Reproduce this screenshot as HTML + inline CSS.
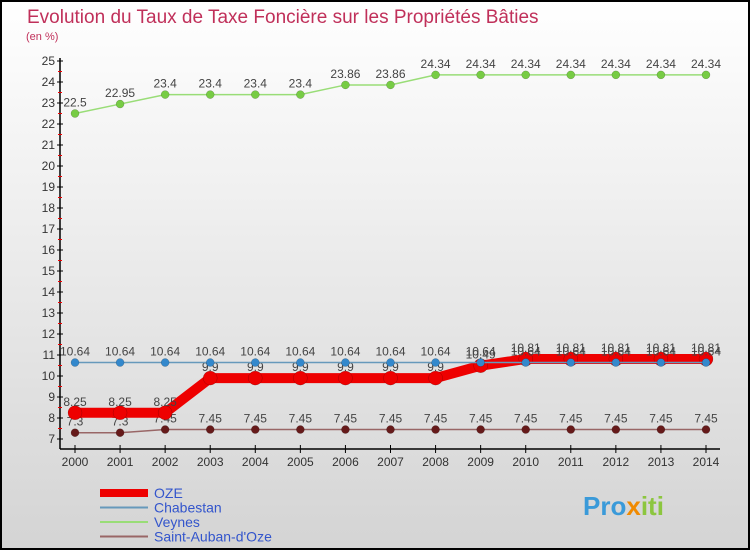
<!DOCTYPE html>
<html><head><meta charset="utf-8"><style>
body{margin:0}
#c{width:750px;height:550px;position:relative;overflow:hidden}
text{font-family:"Liberation Sans",sans-serif}
</style></head><body>
<div id="c">
<svg id="s" width="750" height="550" xmlns="http://www.w3.org/2000/svg">
<defs><linearGradient id="bg" x1="0" y1="0" x2="0" y2="1"><stop offset="0" stop-color="#ffffff"/><stop offset="1" stop-color="#d4d4d4"/></linearGradient></defs>
<rect x="1" y="1" width="748" height="548" fill="url(#bg)" stroke="#000" stroke-width="2"/>
<text x="27" y="23" font-size="19" fill="#c0305a">Evolution du Taux de Taxe Foncière sur les Propriétés Bâties</text>
<text x="26" y="40" font-size="11" fill="#c0305a">(en %)</text>
<g id="axes"></g><g id="series"></g><g id="legend"></g>
<text x="583" y="515" font-size="26" font-weight="bold" fill="#3a9ad9">Pro<tspan fill="#f08a00">x</tspan><tspan fill="#8cc63f">iti</tspan></text>
</svg></div>
<script>
const years=[2000,2001,2002,2003,2004,2005,2006,2007,2008,2009,2010,2011,2012,2013,2014];
const oze=[8.25,8.25,8.25,9.9,9.9,9.9,9.9,9.9,9.9,10.49,10.81,10.81,10.81,10.81,10.81];
const chabestan=[10.64,10.64,10.64,10.64,10.64,10.64,10.64,10.64,10.64,10.64,10.64,10.64,10.64,10.64,10.64];
const veynes=[22.5,22.95,23.4,23.4,23.4,23.4,23.86,23.86,24.34,24.34,24.34,24.34,24.34,24.34,24.34];
const stauban=[7.3,7.3,7.45,7.45,7.45,7.45,7.45,7.45,7.45,7.45,7.45,7.45,7.45,7.45,7.45];
const yTicks=[7,8,9,10,11,12,13,14,15,16,17,18,19,20,21,22,23,24,25];
const NS="http://www.w3.org/2000/svg";
const X=i=>75+i*(706-75)/(years.length-1);
const Y=v=>439-(v-7)*(439-61)/18;
function mk(tag,attrs,parent){const e=document.createElementNS(NS,tag);for(const k in attrs)e.setAttribute(k,attrs[k]);parent.appendChild(e);return e;}
const ax=document.getElementById('axes');
let l=mk('line',{x1:60,y1:58,x2:60,y2:449,stroke:'#000','stroke-width':1.5},ax);


l=mk('line',{x1:60,y1:449,x2:720,y2:449,stroke:'#000','stroke-width':1.5},ax);


yTicks.forEach(v=>{
 mk('line',{x1:57,y1:Y(v),x2:63,y2:Y(v),stroke:'#000'},ax);
 if(v<25) mk('line',{x1:58,y1:Y(v+0.5),x2:62,y2:Y(v+0.5),stroke:'#e00'},ax);
 const t=mk('text',{x:55,y:Y(v)+4,'font-size':12,'text-anchor':'end',fill:'#333'},ax);t.textContent=v;
 
 
});
years.forEach((y,i)=>{
 mk('line',{x1:X(i),y1:445,x2:X(i),y2:453,stroke:'#000'},ax);
 const t=mk('text',{x:X(i),y:466,'font-size':12,'text-anchor':'middle',fill:'#333'},ax);t.textContent=y;
 
 
});
const sg=document.getElementById('series');
function series(name,vals,color,lw,r,dot){
 const g=mk('g',{},sg);
 
 
 mk('polyline',{points:vals.map((v,i)=>X(i)+','+Y(v)).join(' '),fill:'none',stroke:color,'stroke-width':lw},g);
 vals.forEach((v,i)=>{
  const c=mk('circle',{cx:X(i),cy:Y(v),r:r,fill:dot,stroke:'rgba(0,0,0,0.3)','stroke-width':0.5},g);
  
  
  const t=mk('text',{x:X(i),y:Y(v)-7,'font-size':12,'text-anchor':'middle',fill:'#444'},g);t.textContent=String(v);
 });
}
series('veynes',veynes,'#99dd77',1.5,4,'#77cc44');
series('saint-auban',stauban,'#996666',1.5,4,'#661a1a');
series('oze',oze,'#ee0000',10,7,'#ee0000');
series('chabestan',chabestan,'#6699bb',1.5,4,'#3388cc');
const lg=document.getElementById('legend');
const leg=[['OZE','#ee0000',8],['Chabestan','#6699bb',2],['Veynes','#99dd77',2],['Saint-Auban-d\'Oze','#996666',2]];
leg.forEach((d,i)=>{
 const y=493+i*14.5;
 const g=mk('g',{},lg);
 
 
 mk('line',{x1:100,y1:y,x2:148,y2:y,stroke:d[1],'stroke-width':d[2]},g);
 const t=mk('text',{x:154,y:y+5,'font-size':14,fill:'#3355cc'},g);t.textContent=d[0];
});
</script>
</body></html>
